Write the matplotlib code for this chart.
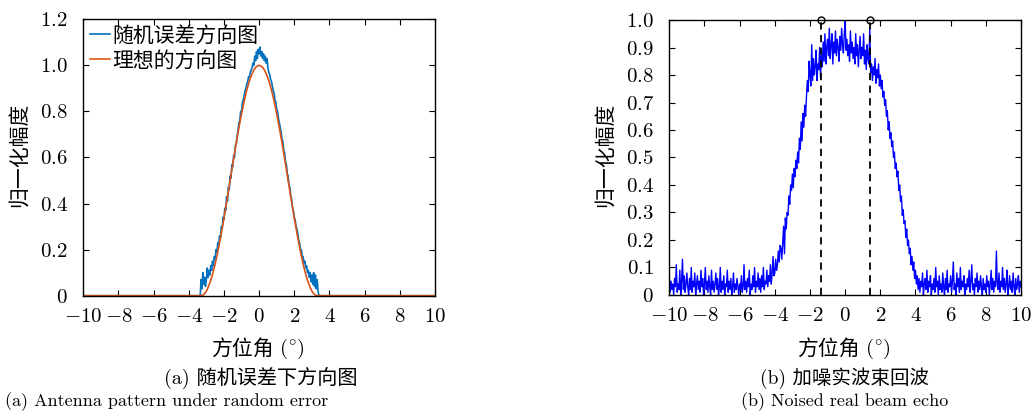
import numpy as np
import matplotlib
matplotlib.use("Agg")
import matplotlib.pyplot as plt

plt.rcParams['font.family'] = ['cmr10', 'Noto Sans CJK SC', 'DejaVu Sans']
plt.rcParams['mathtext.fontset'] = 'cm'
plt.rcParams['axes.formatter.use_mathtext'] = True
plt.rcParams['axes.unicode_minus'] = True

# ---- data: (a) pattern with random error ----
# ideal pattern, main lobe sampled every 0.1 deg from -3.3 to 3.3
ideal_half = [1.000, 0.998, 0.991, 0.980, 0.964, 0.944, 0.921, 0.893, 0.862, 0.827,
              0.790, 0.750, 0.708, 0.664, 0.618, 0.571, 0.524, 0.476, 0.429, 0.382,
              0.337, 0.293, 0.250, 0.210, 0.173, 0.138, 0.107, 0.079, 0.056, 0.036,
              0.020, 0.009, 0.002, 0.000]
ideal_vals = ideal_half[:0:-1] + ideal_half
ideal_ang = np.round(np.arange(-3.3, 3.31, 0.1), 2)

# noisy pattern, every 0.05 deg from -3.4 to 3.4
err_vals = [0.00, 0.00, 0.07, 0.03, 0.10, 0.05, 0.08, 0.04, 0.07, 0.12,
            0.08, 0.11, 0.09, 0.13, 0.11, 0.15, 0.13, 0.17, 0.16, 0.20,
            0.19, 0.23, 0.22, 0.26, 0.25, 0.30, 0.29, 0.34, 0.33, 0.38,
            0.37, 0.43, 0.41, 0.47, 0.46, 0.52, 0.51, 0.57, 0.56, 0.61,
            0.60, 0.65, 0.66, 0.69, 0.72, 0.75, 0.76, 0.80, 0.80, 0.84,
            0.85, 0.87, 0.89, 0.90, 0.92, 0.93, 0.95, 0.95, 0.97, 0.98,
            0.99, 1.01, 1.00, 1.04, 1.02, 1.06, 1.03, 1.07, 1.05, 1.08,
            1.04, 1.06, 1.03, 1.05, 1.02, 1.04, 1.01, 1.03, 0.99, 0.97,
            0.96, 0.94, 0.93, 0.91, 0.89, 0.88, 0.85, 0.84, 0.81, 0.80,
            0.77, 0.75, 0.73, 0.71, 0.68, 0.67, 0.63, 0.62, 0.58, 0.57,
            0.53, 0.52, 0.48, 0.47, 0.43, 0.42, 0.38, 0.37, 0.34, 0.33,
            0.30, 0.29, 0.27, 0.24, 0.23, 0.20, 0.20, 0.17, 0.17, 0.14,
            0.15, 0.12, 0.13, 0.10, 0.11, 0.08, 0.10, 0.06, 0.09, 0.05,
            0.10, 0.04, 0.09, 0.03, 0.07, 0.02, 0.00]
err_ang = np.linspace(-3.4, 3.4, len(err_vals))

# ---- data: (b) noised real beam echo, every 0.05 deg from -10 to 10 ----
echo_rows = [
    [0.07, 0.01, 0.05, 0.02, 0.04, 0.00, 0.06, 0.03, 0.11, 0.01, 0.04, 0.02, 0.09, 0.00, 0.05, 0.13, 0.02, 0.07, 0.01, 0.04],
    [0.08, 0.03, 0.00, 0.06, 0.02, 0.10, 0.01, 0.05, 0.03, 0.08, 0.00, 0.04, 0.07, 0.02, 0.05, 0.01, 0.09, 0.03, 0.06, 0.00],
    [0.04, 0.10, 0.02, 0.05, 0.01, 0.07, 0.03, 0.00, 0.09, 0.02, 0.05, 0.01, 0.04, 0.08, 0.02, 0.06, 0.00, 0.03, 0.10, 0.01],
    [0.05, 0.02, 0.07, 0.00, 0.04, 0.03, 0.09, 0.01, 0.05, 0.02, 0.06, 0.00, 0.03, 0.08, 0.01, 0.04, 0.02, 0.06, 0.03, 0.00],
    [0.04, 0.02, 0.07, 0.01, 0.03, 0.11, 0.02, 0.05, 0.01, 0.06, 0.03, 0.09, 0.00, 0.04, 0.02, 0.07, 0.03, 0.10, 0.01, 0.05],
    [0.03, 0.08, 0.02, 0.06, 0.01, 0.07, 0.03, 0.10, 0.02, 0.05, 0.04, 0.09, 0.03, 0.07, 0.05, 0.11, 0.04, 0.08, 0.14, 0.07],
    [0.08, 0.13, 0.09, 0.11, 0.16, 0.12, 0.18, 0.17, 0.13, 0.19, 0.25, 0.15, 0.28, 0.24, 0.30, 0.29, 0.36, 0.33, 0.40, 0.38],
    [0.44, 0.39, 0.46, 0.43, 0.49, 0.46, 0.52, 0.48, 0.57, 0.53, 0.63, 0.56, 0.66, 0.61, 0.69, 0.65, 0.72, 0.78, 0.74, 0.85],
    [0.80, 0.76, 0.91, 0.78, 0.86, 0.80, 0.83, 0.89, 0.78, 0.84, 0.82, 0.90, 0.79, 0.87, 0.83, 0.92, 0.85, 0.95, 0.84, 0.90],
    [0.93, 0.87, 0.97, 0.86, 0.91, 0.95, 0.84, 0.92, 0.88, 0.96, 0.87, 0.93, 0.90, 0.85, 0.94, 0.89, 0.97, 0.91, 0.88, 0.95],
    [1.00, 0.89, 0.93, 0.87, 0.91, 0.85, 0.96, 0.88, 0.92, 0.86, 0.90, 0.84, 0.95, 0.87, 0.91, 0.83, 0.89, 0.94, 0.86, 0.90],
    [0.87, 0.95, 0.84, 0.89, 0.82, 0.91, 0.86, 0.84, 0.97, 0.81, 0.84, 0.78, 0.83, 0.80, 0.86, 0.77, 0.82, 0.79, 0.84, 0.76],
    [0.80, 0.75, 0.78, 0.72, 0.74, 0.69, 0.71, 0.65, 0.67, 0.60, 0.63, 0.57, 0.59, 0.54, 0.56, 0.50, 0.52, 0.46, 0.48, 0.43],
    [0.45, 0.38, 0.40, 0.34, 0.36, 0.29, 0.31, 0.26, 0.27, 0.21, 0.24, 0.18, 0.20, 0.15, 0.17, 0.11, 0.14, 0.09, 0.12, 0.06],
    [0.09, 0.04, 0.07, 0.02, 0.06, 0.01, 0.05, 0.03, 0.08, 0.00, 0.04, 0.06, 0.02, 0.09, 0.01, 0.05, 0.03, 0.07, 0.00, 0.04],
    [0.02, 0.06, 0.01, 0.10, 0.03, 0.05, 0.00, 0.07, 0.02, 0.04, 0.01, 0.08, 0.03, 0.00, 0.06, 0.02, 0.09, 0.01, 0.04, 0.03],
    [0.07, 0.01, 0.05, 0.12, 0.02, 0.04, 0.00, 0.08, 0.03, 0.06, 0.01, 0.10, 0.02, 0.05, 0.03, 0.07, 0.00, 0.04, 0.02, 0.06],
    [0.03, 0.09, 0.01, 0.05, 0.11, 0.02, 0.04, 0.00, 0.06, 0.03, 0.08, 0.01, 0.05, 0.02, 0.07, 0.03, 0.00, 0.06, 0.02, 0.04],
    [0.01, 0.07, 0.03, 0.05, 0.00, 0.04, 0.09, 0.02, 0.06, 0.01, 0.05, 0.03, 0.16, 0.04, 0.02, 0.08, 0.01, 0.05, 0.03, 0.10],
    [0.02, 0.06, 0.01, 0.04, 0.09, 0.00, 0.03, 0.07, 0.02, 0.05, 0.01, 0.08, 0.03, 0.00, 0.06, 0.02, 0.04, 0.07, 0.01, 0.05],
    [0.03],
]
echo_vals = [v for row in echo_rows for v in row]
echo_ang = np.linspace(-10, 10, len(echo_vals))

# beam edge markers
edge_ang = [-1.4, 1.4]
edge_val = [1.0, 1.0]

x_ticks = [-10, -8, -6, -4, -2, 0, 2, 4, 6, 8, 10]
ya_ticks = [0, 0.2, 0.4, 0.6, 0.8, 1.0, 1.2]
yb_ticks = [0, 0.1, 0.2, 0.3, 0.4, 0.5, 0.6, 0.7, 0.8, 0.9, 1.0]


def tick_lbl(v):
    if v == 0:
        return r"$0$"
    if isinstance(v, float):
        return r"$%.1f$" % v
    return r"$%d$" % v


def style_axes(ax, yticks):
    ax.set_xlim(-10, 10)
    ax.set_xticks(x_ticks)
    ax.set_xticklabels([tick_lbl(v) for v in x_ticks])
    ax.set_yticks(yticks)
    ax.set_yticklabels([tick_lbl(v) for v in yticks])
    ax.tick_params(direction='in', top=True, right=True, length=4, width=0.8,
                   labelsize=15)
    ax.tick_params(axis='x', pad=9)
    ax.tick_params(axis='y', pad=11)
    for s in ax.spines.values():
        s.set_linewidth(1.0)


fig = plt.figure(figsize=(10.33, 4.16), dpi=100)

# (a)
ax1 = fig.add_axes([0.0806, 0.2892, 0.3405, 0.6644])
ax1.plot([-10] + list(err_ang) + [10], [0] + err_vals + [0], color='#0072BD', lw=1.2,
         label='随机误差方向图')
ax1.plot([-10] + list(ideal_ang) + [10], [0] + ideal_vals + [0], color='#D95319', lw=1.2,
         label='理想的方向图')
ax1.set_ylim(0, 1.2)
style_axes(ax1, ya_ticks)
ax1.legend(loc='upper left', frameon=False, fontsize=15, handlelength=1.0,
           handletextpad=0.1, borderaxespad=0.1, labelspacing=0.25, borderpad=0.2)

# (b)
ax2 = fig.add_axes([0.6479, 0.2909, 0.3405, 0.6610])
ax2.plot(echo_ang, echo_vals, color='#0000FF', lw=1.0)
for a, v in zip(edge_ang, edge_val):
    ax2.plot([a, a], [0, v], color='k', ls='--', lw=1.3, dashes=(4, 3))
ax2.plot(edge_ang, edge_val, 'o', color='k', mfc='none', ms=5, mew=1.0, clip_on=False)
ax2.set_ylim(0, 1.0)
style_axes(ax2, yb_ticks)

# labels and captions
for cx, ylx in [(259, 20), (845, 606)]:
    fig.text(ylx / 1033, 1 - 155 / 416, '归一化幅度', rotation=90, ha='center', va='center',
             fontsize=15)
    fig.text((cx + 15) / 1033, 1 - 349 / 416, '方位角', ha='right', va='center', fontsize=15)
    fig.text((cx + 20) / 1033, 1 - 349 / 416, r'$(^{\circ})$', ha='left', va='center',
             fontsize=15)

fig.text(261 / 1033, 1 - 378 / 416, '(a) 随机误差下方向图', ha='center', va='center', fontsize=14.5)
fig.text(167 / 1033, 1 - 402 / 416, '(a) Antenna pattern under random error', ha='center',
         va='center', fontsize=13)
fig.text(845 / 1033, 1 - 378 / 416, '(b) 加噪实波束回波', ha='center', va='center', fontsize=14)
fig.text(845 / 1033, 1 - 402 / 416, '(b) Noised real beam echo', ha='center', va='center',
         fontsize=13)

fig.savefig('out.png', dpi=100)
